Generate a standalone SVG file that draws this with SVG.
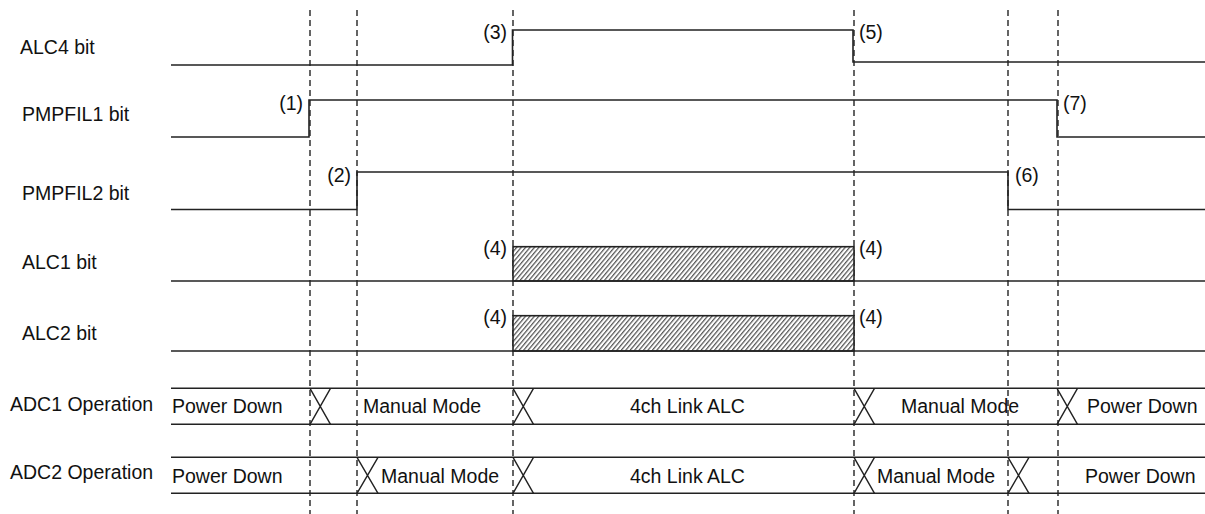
<svg xmlns="http://www.w3.org/2000/svg" width="1205" height="514" viewBox="0 0 1205 514">
<style>
text{font-family:"Liberation Sans",Arial,sans-serif;font-size:19.5px;fill:#111}
.sig{fill:none;stroke:#222;stroke-width:1.6}
.guide{fill:none;stroke:#111;stroke-width:1.3;stroke-dasharray:6 4}
.x{fill:none;stroke:#222;stroke-width:1.4}
.e{text-anchor:end}
.m{text-anchor:middle}
</style>
<defs>
<pattern id="hatch" patternUnits="userSpaceOnUse" width="3.4" height="3.4" patternTransform="rotate(40)">
<rect width="3.4" height="3.4" fill="#fff"/>
<line x1="0.6" y1="0" x2="0.6" y2="3.4" stroke="#555" stroke-width="1.3"/>
</pattern>
</defs>
<rect width="1205" height="514" fill="#fff"/>

<g id="connectors">
<line class="guide" x1="310" y1="10" x2="310" y2="514"/>
<line class="guide" x1="357" y1="10" x2="357" y2="514"/>
<line class="guide" x1="513" y1="10" x2="513" y2="514"/>
<line class="guide" x1="854" y1="10" x2="854" y2="514"/>
<line class="guide" x1="1008" y1="10" x2="1008" y2="514"/>
<line class="guide" x1="1058" y1="10" x2="1058" y2="514"/>
</g>

<g id="alc4">
<text x="20" y="54">ALC4 bit</text>
<polyline class="sig" points="171,65 512.5,65 512.5,30 853,30 853,62 1205,62"/>
<text class="e" x="507" y="39">(3)</text>
<text x="859" y="39">(5)</text>
</g>

<g id="pmpfil1">
<text x="22" y="120.5">PMPFIL1 bit</text>
<polyline class="sig" points="171,137 309,137 309,100 1057,100 1057,137 1205,137"/>
<text class="e" x="303" y="110">(1)</text>
<text x="1063" y="110">(7)</text>
</g>

<g id="pmpfil2">
<text x="22" y="200">PMPFIL2 bit</text>
<polyline class="sig" points="171,209.5 357,209.5 357,172 1008,172 1008,209.5 1205,209.5"/>
<text class="e" x="351" y="182">(2)</text>
<text x="1015" y="182">(6)</text>
</g>

<g id="alc1">
<text x="22" y="269">ALC1 bit</text>
<rect x="513" y="246.7" width="341" height="34.3" fill="url(#hatch)" stroke="#222" stroke-width="1.6"/>
<line class="sig" x1="171" y1="281" x2="1205" y2="281"/>
<text class="e" x="507" y="255">(4)</text>
<text x="859" y="255">(4)</text>
</g>

<g id="alc2">
<text x="22" y="340">ALC2 bit</text>
<rect x="513" y="315.7" width="341" height="35.3" fill="url(#hatch)" stroke="#222" stroke-width="1.6"/>
<line class="sig" x1="171" y1="351" x2="1205" y2="351"/>
<text class="e" x="507" y="324">(4)</text>
<text x="859" y="324">(4)</text>
</g>

<g id="adc1">
<text x="10" y="410.5">ADC1 Operation</text>
<line class="sig" x1="171" y1="388.3" x2="1205" y2="388.3"/>
<line class="sig" x1="171" y1="424.3" x2="1205" y2="424.3"/>
<path class="x" d="M310,388.3 L330.5,424.3 M330.5,388.3 L310,424.3 M513,388.3 L533.5,424.3 M533.5,388.3 L513,424.3 M854,388.3 L874.5,424.3 M874.5,388.3 L854,424.3 M1057,388.3 L1077.5,424.3 M1077.5,388.3 L1057,424.3"/>
<text x="172" y="413">Power Down</text>
<text x="363" y="413">Manual Mode</text>
<text x="630" y="413">4ch Link ALC</text>
<text x="901" y="413">Manual Mode</text>
<text x="1087" y="413">Power Down</text>
</g>

<g id="adc2">
<text x="10" y="479">ADC2 Operation</text>
<line class="sig" x1="171" y1="457.3" x2="1205" y2="457.3"/>
<line class="sig" x1="171" y1="493.3" x2="1205" y2="493.3"/>
<path class="x" d="M357,457.3 L378,493.3 M378,457.3 L357,493.3 M513,457.3 L533.5,493.3 M533.5,457.3 L513,493.3 M854,457.3 L874.5,493.3 M874.5,457.3 L854,493.3 M1008,457.3 L1029,493.3 M1029,457.3 L1008,493.3"/>
<text x="172" y="482.5">Power Down</text>
<text x="381" y="482.5">Manual Mode</text>
<text x="630" y="482.5">4ch Link ALC</text>
<text x="877" y="482.5">Manual Mode</text>
<text x="1085" y="482.5">Power Down</text>
</g>
</svg>
